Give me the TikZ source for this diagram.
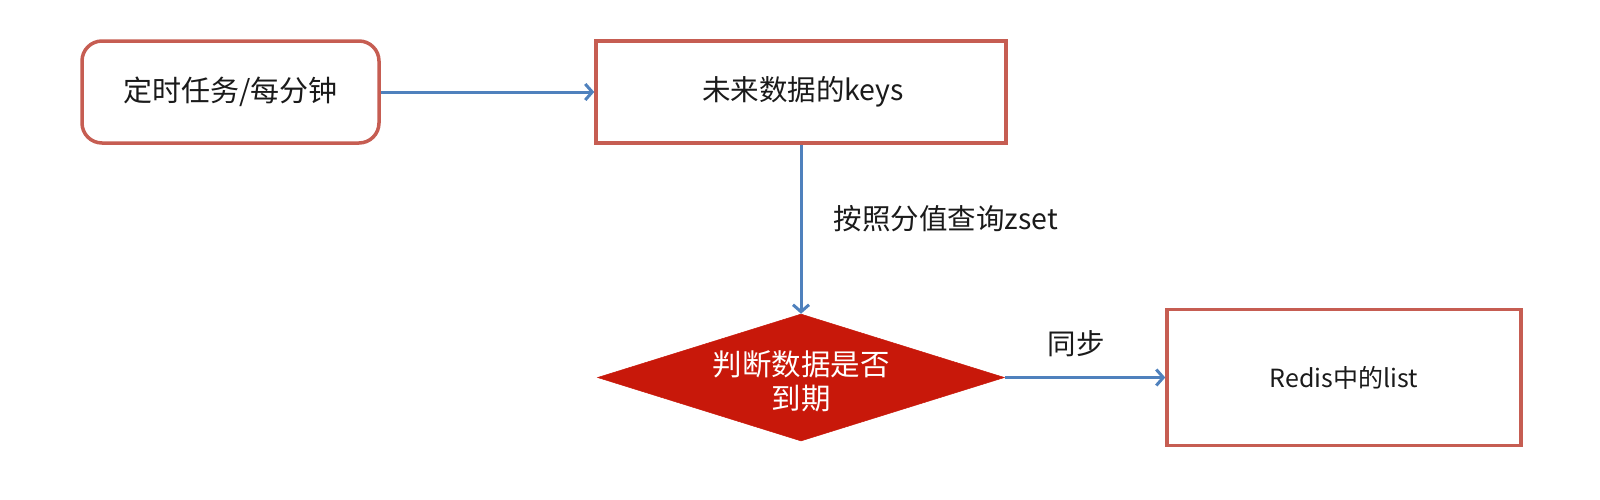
\documentclass[tikz,border=0pt]{standalone}
\usepackage{fontspec}
\setmainfont{Noto Sans CJK SC}
\usetikzlibrary{shapes.geometric,arrows.meta}
\definecolor{boxred}{HTML}{C65D52}
\definecolor{arrblue}{HTML}{4F81BD}
\definecolor{dfill}{HTML}{C8180A}
\definecolor{txt}{HTML}{1A1A1A}
\tikzset{
  rbox/.style={draw=boxred, line width=3.5pt, fill=white, rounded corners=20pt, inner sep=0pt, text=txt},
  sbox/.style={draw=boxred, line width=3.5pt, fill=white, inner sep=0pt, text=txt},
  conn/.style={draw=arrblue, line width=3pt, -{Straight Barb[length=7pt,width=16pt]}},
  lbl/.style={inner sep=0pt, text=txt},
}
\begin{document}
\begin{tikzpicture}[x=1pt,y=-1pt]
\useasboundingbox (0,0) rectangle (1600,499);
\node[rbox, minimum width=297pt, minimum height=102pt, font=\fontsize{29}{35}\selectfont] (t) at (230.5,92) {定时任务/每分钟};
\node[sbox, minimum width=410pt, minimum height=102pt, font=\fontsize{28.5}{34}\selectfont] (b) at (801,92) {\hspace{4pt}未来数据的keys};
\node[diamond, fill=dfill, draw=dfill, line width=0.5pt, minimum width=407pt, minimum height=127pt, inner sep=0pt] (d) at (801,377.5) {};
\node[lbl, text=white, align=center, font=\fontsize{29.5}{34}\selectfont] (dt) at (801,381) {判断数据是否\\到期};
\node[sbox, minimum width=354pt, minimum height=136pt, font=\fontsize{25}{30}\selectfont] (r) at (1344,377.5) {\raisebox{-3pt}{Redis中的list}};
\node[lbl, font=\fontsize{28.5}{34}\selectfont] (l1) at (946,219) {按照分值查询zset};
\node[lbl, font=\fontsize{28.5}{34}\selectfont] (l2) at (1076,344) {同步};
\draw[conn] (t.east) -- (b.west);
\draw[conn] (b.south) -- (d.north);
\draw[conn] (d.east) -- (r.west);
\end{tikzpicture}
\end{document}
